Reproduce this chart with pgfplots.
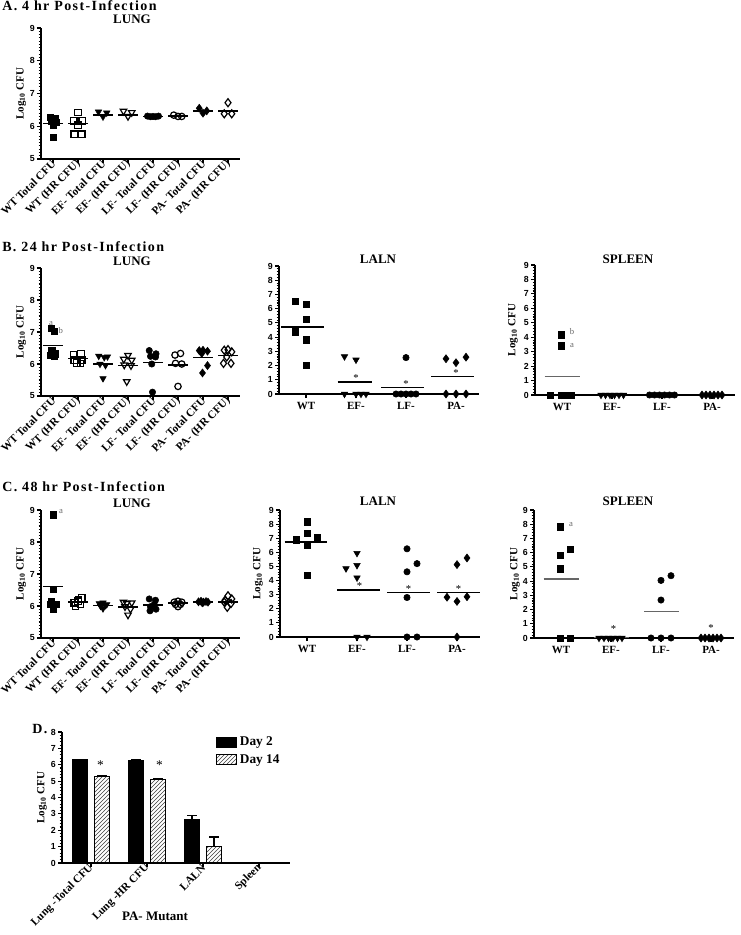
\documentclass[border=0pt]{standalone}
\usepackage{fontspec}
\setmainfont{Liberation Serif}
\setsansfont{Liberation Sans}
\newfontfamily\titlefam[LetterSpace=10]{Liberation Serif}
\usepackage{pgfplots}
\pgfplotsset{compat=1.18}
\usetikzlibrary{patterns}

\newcommand\ttl{\titlefam\bfseries\fontsize{10.5}{12}\selectfont}
\newcommand\pnl{\bfseries\fontsize{9.75}{11}\selectfont}
\newcommand\xlf{\bfseries\fontsize{8.4}{10}\selectfont}
\newcommand\catf{\bfseries\fontsize{8.25}{10}\selectfont}
\newcommand\ylf{\bfseries\fontsize{8.25}{10}\selectfont}
\newcommand\tkf{\sffamily\bfseries\fontsize{6.6}{7}\selectfont}
\newcommand\stf{\fontsize{8}{9}\selectfont}
\newcommand\anf{\fontsize{6.5}{7}\selectfont}

\pgfplotsset{
 prism/.style={scale only axis, anchor=south west, clip=false,
   axis x line*=bottom, axis y line*=left,
   axis line style={line width=1.4pt},
   x axis line style={-}, y axis line style={-},
   tick align=outside, major tick length=3pt, minor tick length=1.8pt,
   every tick/.style={black, line width=0.8pt},
   /pgf/number format/assume math mode=true,
   yticklabel style={font=\tkf, inner sep=1.5pt},
   ylabel={Log\textsubscript{10} CFU},
   ylabel style={font=\ylf, anchor=center},
 },
 lung/.style={prism, width=149.25pt, xmin=0.52, xmax=8.48, ymin=5, ymax=9,
   ytick={5,6,7,8,9}, minor y tick num=9, xtick={1,2,3,4,5,6,7,8},
   xticklabels={WT Total CFU, WT (HR CFU), EF- Total CFU, EF- (HR CFU), LF- Total CFU, LF- (HR CFU), PA- Total CFU, PA- (HR CFU)},
   xticklabel style={rotate=45, anchor=east, font=\xlf, inner sep=1pt, xshift=1.8pt},
   ylabel style={at={(axis description cs:-0.1,0.5)}}},
 lnode/.style={prism, width=150pt, xmin=0.46, xmax=4.46, ymin=0, ymax=9,
   ytick={0,1,2,3,4,5,6,7,8,9}, minor y tick num=4, xtick={1,2,3,4},
   xticklabels={WT,EF-,LF-,PA-}, xticklabel style={font=\catf}},
 fsq/.style={only marks, black, mark=square*, mark size=2.4pt, mark options={fill=black}},
 osq/.style={only marks, black, mark=square, mark size=2.4pt, mark options={line width=0.9pt}},
 ftri/.style={only marks, black, mark=triangle*, mark size=2.8pt, mark options={rotate=180, fill=black}},
 otri/.style={only marks, black, mark=triangle, mark size=2.8pt, mark options={rotate=180, line width=0.9pt}},
 fcirc/.style={only marks, black, mark=*, mark size=2.4pt, mark options={fill=black}},
 ocirc/.style={only marks, black, mark=o, mark size=2.4pt, mark options={line width=0.9pt}},
 fdia/.style={only marks, black, mark=diamond*, mark size=3pt, mark options={fill=black}},
 odia/.style={only marks, black, mark=diamond, mark size=3pt, mark options={line width=0.9pt}},
 mline/.style={black, line width=1.1pt, no marks},
 gline/.style={black!60, line width=1.1pt, no marks},
 boxlegend/.style={legend image code/.code={\draw[##1] (0pt,-3.75pt) rectangle (15pt,3.75pt);}},
}

\begin{document}
\begin{tikzpicture}
\path[use as bounding box] (0,0) rectangle (555pt,-701.25pt);

\begin{scope}[x=0.75pt,y=-0.75pt]
\node[anchor=base west, font=\ttl, inner sep=0] at (2,11) {A. 4 hr Post-Infection};
\node[anchor=base, font=\pnl, inner sep=0] at (132,23) {LUNG};
\node[anchor=base west, font=\ttl, inner sep=0] at (2,251) {B. 24 hr Post-Infection};
\node[anchor=base, font=\pnl, inner sep=0] at (132,265) {LUNG};
\node[anchor=base, font=\pnl, inner sep=0] at (378,263) {LALN};
\node[anchor=base, font=\pnl, inner sep=0] at (628,263) {SPLEEN};
\node[anchor=base west, font=\ttl, inner sep=0] at (2,491) {C. 48 hr Post-Infection};
\node[anchor=base, font=\pnl, inner sep=0] at (132,507) {LUNG};
\node[anchor=base, font=\pnl, inner sep=0] at (378,505) {LALN};
\node[anchor=base, font=\pnl, inner sep=0] at (628,505) {SPLEEN};
\node[anchor=base west, font=\ttl, inner sep=0] at (32,733) {D.};
\end{scope}

% ---------- A lung
\begin{axis}[lung, at={(30.75pt,-119.25pt)}, height=98.25pt]
\addplot[fsq] coordinates {(0.88,6.27)(1.08,6.25)(0.92,6.16)(1.12,6.12)(1.0,6.05)(1.0,5.67)};
\addplot[osq] coordinates {(2.0,6.42)(1.83,6.16)(2.17,6.16)(2.0,6.03)(1.85,5.76)(2.15,5.76)};
\addplot[ftri] coordinates {(2.82,6.44)(3.15,6.41)(3.0,6.29)};
\addplot[otri] coordinates {(3.82,6.46)(4.15,6.42)(4.0,6.30)};
\addplot[fcirc] coordinates {(4.78,6.31)(4.9,6.29)(5.0,6.30)(5.1,6.29)(5.22,6.31)};
\addplot[ocirc] coordinates {(5.83,6.34)(6.0,6.30)(6.15,6.30)};
\addplot[fdia] coordinates {(6.85,6.55)(7.0,6.40)(7.15,6.47)};
\addplot[odia] coordinates {(8.0,6.72)(7.85,6.38)(8.15,6.38)};
\addplot[mline] coordinates {(0.6,6.08)(1.4,6.08)};
\addplot[mline] coordinates {(1.6,6.08)(2.4,6.08)};
\addplot[mline] coordinates {(2.6,6.35)(3.4,6.35)};
\addplot[mline] coordinates {(3.6,6.35)(4.4,6.35)};
\addplot[mline] coordinates {(4.6,6.30)(5.4,6.30)};
\addplot[mline] coordinates {(5.6,6.32)(6.4,6.32)};
\addplot[mline] coordinates {(6.6,6.47)(7.4,6.47)};
\addplot[mline] coordinates {(7.6,6.47)(8.4,6.47)};
\end{axis}

% ---------- B lung
\begin{axis}[lung, at={(30.75pt,-297pt)}, height=96pt]
\addplot[fsq] coordinates {(0.93,7.12)(1.05,7.03)(0.95,6.42)(1.1,6.32)(0.9,6.27)(1.05,6.24)};
\addplot[osq] coordinates {(1.82,6.28)(2.12,6.32)(1.85,6.12)(2.15,6.12)(1.95,6.03)(2.1,6.02)};
\addplot[ftri] coordinates {(2.83,6.25)(3.05,6.21)(3.18,6.23)(2.88,6.0)(3.1,5.96)(3.0,5.55)};
\addplot[otri] coordinates {(4.0,6.27)(3.83,6.15)(4.15,6.12)(3.85,5.97)(4.12,5.95)(3.95,5.45)};
\addplot[fcirc] coordinates {(4.85,6.42)(5.12,6.32)(4.9,6.24)(5.1,6.22)(4.95,6.0)(4.98,5.12)};
\addplot[ocirc] coordinates {(5.88,6.28)(6.1,6.33)(5.9,6.02)(6.15,6.0)(6.0,5.3)};
\addplot[fdia] coordinates {(6.85,6.42)(7.0,6.43)(7.18,6.4)(6.95,6.33)(7.18,5.95)(6.98,5.72)};
\addplot[odia] coordinates {(7.85,6.43)(8.0,6.45)(8.15,6.38)(7.95,6.22)(7.82,6.02)(8.12,6.02)};
\addplot[mline] coordinates {(0.6,6.57)(1.4,6.57)};
\addplot[mline] coordinates {(1.6,6.17)(2.4,6.17)};
\addplot[mline] coordinates {(2.6,6.0)(3.4,6.0)};
\addplot[mline] coordinates {(3.6,5.96)(4.4,5.96)};
\addplot[mline] coordinates {(4.6,6.05)(5.4,6.05)};
\addplot[mline] coordinates {(5.6,5.97)(6.4,5.97)};
\addplot[mline] coordinates {(6.6,6.2)(7.4,6.2)};
\addplot[mline] coordinates {(7.6,6.27)(8.4,6.27)};
\node[font=\anf, black!60] at (axis cs:0.92,7.25) {a};
\node[font=\anf, black!60] at (axis cs:1.31,7.04) {b};
\end{axis}

% ---------- B LALN
\begin{axis}[lnode, at={(209.25pt,-295.5pt)}, height=96pt, ylabel={}]
\addplot[fsq] coordinates {(0.79,6.53)(1.0,6.32)(1.0,5.27)(0.79,4.38)(1.0,3.8)(1.0,2.0)};
\addplot[ftri] coordinates {(1.77,2.63)(2.0,2.4)(1.77,0)(2.0,0)(2.1,0)(2.2,0)};
\addplot[fcirc] coordinates {(3.0,2.56)(2.8,0)(2.9,0)(3.0,0)(3.1,0)(3.2,0)};
\addplot[fdia] coordinates {(3.8,2.48)(4.0,2.2)(4.2,2.59)(3.8,0)(4.0,0)(4.2,0)};
\addplot[mline] coordinates {(0.5,4.72)(1.36,4.72)};
\addplot[mline] coordinates {(1.63,0.84)(2.32,0.84)};
\addplot[mline] coordinates {(2.5,0.45)(3.36,0.45)};
\addplot[mline] coordinates {(3.5,1.22)(4.36,1.22)};
\node[font=\stf] at (axis cs:2.0,1.12) {*};
\node[font=\stf] at (axis cs:3.0,0.73) {*};
\node[font=\stf] at (axis cs:4.0,1.5) {*};
\end{axis}

% ---------- B spleen
\begin{axis}[lnode, at={(401.25pt,-296.25pt)}, height=97.5pt, ylabel style={at={(axis description cs:-0.11,0.5)}}]
\addplot[fsq] coordinates {(0.98,4.16)(0.98,3.42)(0.77,0)(0.99,0)(1.09,0)(1.19,0)};
\addplot[ftri] coordinates {(1.78,0)(1.87,0)(1.96,0)(2.05,0)(2.14,0)(2.23,0)};
\addplot[fcirc] coordinates {(2.75,0)(2.85,0)(2.95,0)(3.05,0)(3.15,0)(3.25,0)};
\addplot[fdia] coordinates {(3.8,0)(3.88,0)(3.96,0)(4.04,0)(4.12,0)(4.2,0)};
\addplot[gline] coordinates {(0.65,1.27)(1.35,1.27)};
\node[font=\anf, black!60] at (axis cs:1.2,4.4) {b};
\node[font=\anf, black!60] at (axis cs:1.2,3.45) {a};
\end{axis}

% ---------- C lung
\begin{axis}[lung, at={(30.75pt,-478.5pt)}, height=96pt]
\addplot[fsq] coordinates {(1.0,8.85)(1.0,6.53)(0.88,6.06)(1.12,6.06)(1.0,5.92)(0.92,6.15)};
\addplot[osq] coordinates {(1.85,6.1)(2.0,6.15)(2.15,6.25)(1.9,6.0)(2.1,6.05)(2.02,6.2)};
\addplot[ftri] coordinates {(2.85,6.08)(3.0,6.1)(3.15,6.05)(2.9,6.0)(3.1,6.02)(3.0,5.92)};
\addplot[otri] coordinates {(3.82,6.12)(3.95,6.08)(4.15,6.1)(3.88,5.98)(4.1,5.9)(4.0,5.72)};
\addplot[fcirc] coordinates {(4.85,6.22)(5.1,6.18)(5.05,6.05)(4.9,5.98)(4.88,5.85)(5.12,5.9)};
\addplot[ocirc] coordinates {(5.85,6.12)(6.0,6.15)(6.15,6.12)(5.9,6.05)(6.1,6.05)(6.0,5.98)};
\addplot[fdia] coordinates {(6.82,6.13)(6.92,6.15)(7.02,6.12)(7.12,6.14)(7.2,6.12)(6.97,6.1)};
\addplot[odia] coordinates {(8.0,6.32)(8.15,6.22)(7.85,6.12)(8.12,6.08)(7.97,5.96)(7.88,6.18)};
\addplot[mline] coordinates {(0.6,6.61)(1.4,6.61)};
\addplot[mline] coordinates {(1.6,6.12)(2.4,6.12)};
\addplot[mline] coordinates {(2.6,6.01)(3.4,6.01)};
\addplot[mline] coordinates {(3.6,5.97)(4.4,5.97)};
\addplot[mline] coordinates {(4.6,6.03)(5.4,6.03)};
\addplot[mline] coordinates {(5.6,6.09)(6.4,6.09)};
\addplot[mline] coordinates {(6.6,6.13)(7.4,6.13)};
\addplot[mline] coordinates {(7.6,6.13)(8.4,6.13)};
\node[font=\anf, black!60] at (axis cs:1.32,8.94) {a};
\end{axis}

% ---------- C LALN
\begin{axis}[lnode, at={(210pt,-477.75pt)}, height=95.25pt, ylabel style={at={(axis description cs:-0.11,0.5)}}]
\addplot[fsq] coordinates {(1.0,8.16)(1.0,7.34)(1.21,7.06)(0.79,6.9)(1.0,6.53)(1.0,4.38)};
\addplot[ftri] coordinates {(2.0,5.94)(2.0,5.08)(1.78,4.85)(2.0,4.2)(2.0,0)(2.2,0)};
\addplot[fcirc] coordinates {(3.0,6.25)(3.2,5.2)(3.0,4.62)(3.0,2.8)(3.0,0)(3.2,0)};
\addplot[fdia] coordinates {(4.2,5.6)(4.0,5.13)(3.8,2.82)(4.2,2.85)(4.0,2.52)(4.0,0)};
\addplot[mline] coordinates {(0.55,6.73)(1.4,6.73)};
\addplot[mline] coordinates {(1.6,3.33)(2.45,3.33)};
\addplot[mline] coordinates {(2.6,3.17)(3.45,3.17)};
\addplot[mline] coordinates {(3.6,3.17)(4.45,3.17)};
\node[font=\stf] at (axis cs:2.05,3.58) {*};
\node[font=\stf] at (axis cs:3.03,3.42) {*};
\node[font=\stf] at (axis cs:4.03,3.42) {*};
\end{axis}

% ---------- C spleen
\begin{axis}[lnode, at={(400.5pt,-478.5pt)}, height=96pt, ylabel style={at={(axis description cs:-0.095,0.5)}}]
\addplot[fsq] coordinates {(0.98,7.81)(1.19,6.22)(0.98,5.8)(0.98,4.88)(0.98,0)(1.19,0)};
\addplot[ftri] coordinates {(1.76,0)(1.86,0)(1.95,0)(2.04,0)(2.13,0)(2.22,0)};
\addplot[fcirc] coordinates {(3.0,4.05)(3.2,4.38)(3.0,2.67)(2.8,0)(3.0,0)(3.2,0)};
\addplot[fdia] coordinates {(3.8,0)(3.88,0)(3.96,0)(4.04,0)(4.12,0)(4.2,0)};
\addplot[gline] coordinates {(0.65,4.14)(1.35,4.14)};
\addplot[gline] coordinates {(1.65,0.05)(2.35,0.05)};
\addplot[gline] coordinates {(2.66,1.85)(3.36,1.85)};
\node[font=\stf] at (axis cs:2.05,0.62) {*};
\node[font=\stf] at (axis cs:4.0,0.7) {*};
\node[font=\anf, black!60] at (axis cs:1.2,8.0) {a};
\end{axis}

% ---------- D bars
\begin{axis}[prism, at={(46.5pt,-647.25pt)}, width=171pt, height=98.25pt,
  ybar=5.25pt, bar width=11.25pt,
  xmin=-0.518, xmax=3.553, ymin=0, ymax=8, ytick={0,1,2,3,4,5,6,7,8}, minor y tick num=4,
  xtick={0,1,2,3}, xticklabels={Lung -Total CFU, Lung -HR CFU, LALN, Spleen},
  xticklabel style={rotate=45, anchor=east, font=\xlf, inner sep=1pt, xshift=1.8pt},
  ylabel style={at={(axis description cs:-0.088,0.5)}},
  xlabel={PA- Mutant}, xlabel style={at={(axis description cs:0.408,-0.41)}, anchor=center, font=\pnl},
  legend style={at={(axis description cs:0.675,0.985)}, anchor=north west, draw=none, fill=none, font=\bfseries\fontsize{10}{11}\selectfont, row sep=1pt, inner sep=0pt},
  legend cell align=left]
\addplot[fill=black, draw=black, line width=0.8pt, boxlegend,
  error bars/.cd, y dir=plus, y explicit, error bar style={line width=1pt, black}, error mark options={rotate=90, mark size=3.5pt, line width=1pt, black}]
  table[x=x, y=y, y error plus=e] {
x y e
0 6.30 0.03
1 6.27 0.03
2 2.65 0.25
3 0 0
};
\addlegendentry{Day 2}
\addplot[pattern=north east lines, pattern color=black!75, draw=black, line width=0.8pt, boxlegend,
  error bars/.cd, y dir=plus, y explicit, error bar style={line width=1pt, black}, error mark options={rotate=90, mark size=3.5pt, line width=1pt, black}]
  table[x=x, y=y, y error plus=e] {
x y e
0 5.28 0.05
1 5.12 0.04
2 1.0 0.58
3 0 0
};
\addlegendentry{Day 14}
\node[font=\fontsize{10}{11}\selectfont] at (axis cs:0.17,6.0) {*};
\node[font=\fontsize{10}{11}\selectfont] at (axis cs:1.22,6.0) {*};
\end{axis}
\end{tikzpicture}
\end{document}
